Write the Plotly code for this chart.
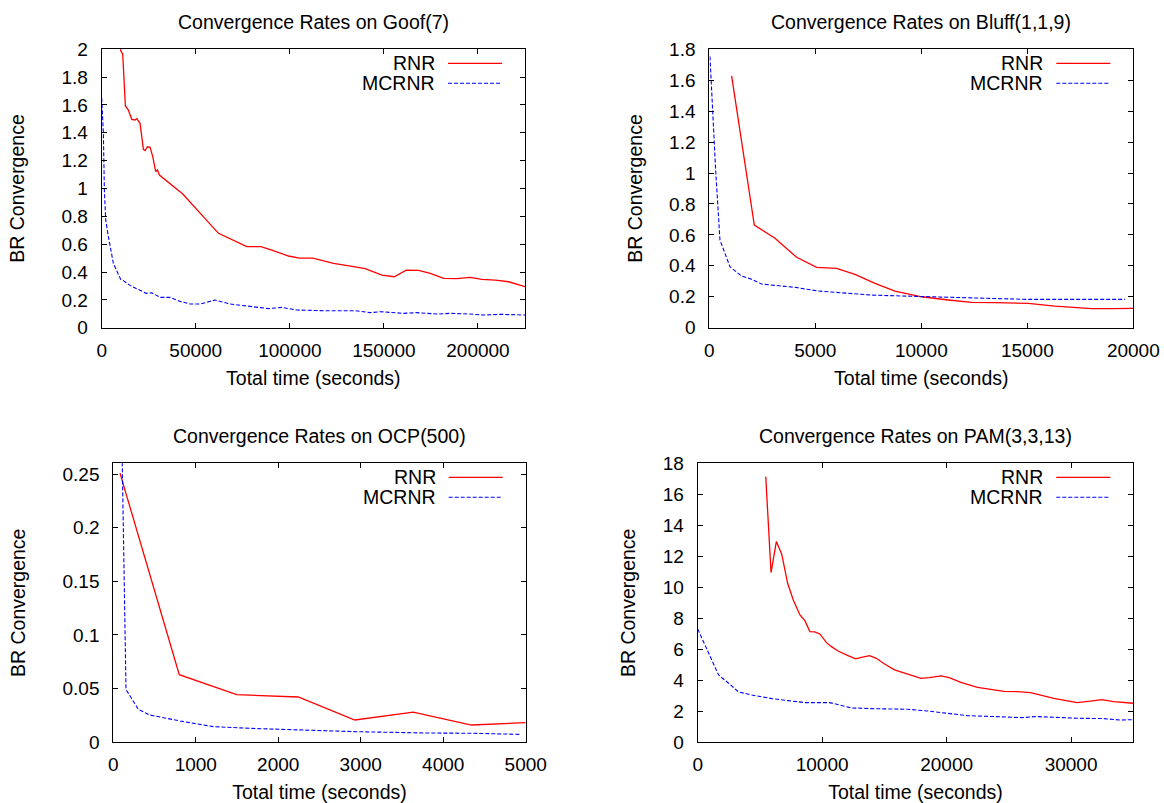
import plotly.graph_objects as go

# ---------------- data ----------------
goof_rnr_x = [9500, 10100, 11170, 12590, 14180, 15960, 17730, 18620, 20390, 22160, 23050, 24290, 25710,
              27130, 28720, 29610, 30670, 43090, 62060, 77130, 84570, 90430, 99290, 105140, 112230,
              123230, 133870, 140070, 148940, 155500, 161880, 168440, 174650, 181740, 188830, 195920,
              202130, 209220, 216310, 225000]
goof_rnr_y = [2.08, 1.99, 1.966, 1.593, 1.564, 1.497, 1.492, 1.502, 1.468, 1.281, 1.272, 1.30, 1.296,
              1.229, 1.121, 1.133, 1.097, 0.960, 0.678, 0.582, 0.582, 0.558, 0.515, 0.500, 0.500,
              0.462, 0.438, 0.424, 0.378, 0.366, 0.414, 0.412, 0.390, 0.354, 0.352, 0.362,
              0.347, 0.342, 0.330, 0.295]
goof_mc_x = [0, 890, 1420, 2130, 3550, 6200, 10110, 11520, 15070, 20390, 23580, 26600, 31030, 36350,
             41670, 46990, 52300, 60280, 68260, 77130, 88650, 95740, 103720, 117910, 134750, 142730,
             148050, 160460, 167550, 178190, 185290, 195920, 203010, 211880, 225000]
goof_mc_y = [1.648, 1.396, 0.989, 0.774, 0.654, 0.462, 0.347, 0.338, 0.304, 0.271, 0.247, 0.251, 0.218,
             0.218, 0.189, 0.170, 0.170, 0.199, 0.170, 0.156, 0.137, 0.146, 0.127, 0.122, 0.122, 0.108,
             0.115, 0.103, 0.108, 0.098, 0.103, 0.098, 0.091, 0.096, 0.091]

bluff_rnr_x = [1053, 2123, 3097, 4120, 5063, 6006, 6871, 7814, 8758, 10016, 11274, 12374, 13475,
               15047, 16305, 17248, 18035, 18978, 20000]
bluff_rnr_y = [1.628, 0.664, 0.578, 0.455, 0.390, 0.384, 0.345, 0.287, 0.237, 0.200, 0.179, 0.164,
               0.162, 0.157, 0.140, 0.131, 0.123, 0.123, 0.125]
bluff_mc_x = [31, 142, 299, 503, 975, 1525, 1997, 2469, 3097, 4041, 5142, 6399, 7657, 9072, 10330,
              11902, 13160, 15047, 17406, 19607]
bluff_mc_y = [1.753, 1.408, 1.020, 0.567, 0.394, 0.334, 0.313, 0.282, 0.274, 0.261, 0.237, 0.226,
              0.211, 0.205, 0.200, 0.194, 0.188, 0.183, 0.183, 0.183]

ocp_rnr_x = [81, 800, 1495, 2242, 2929, 3636, 4343, 5000]
ocp_rnr_y = [0.2509, 0.0630, 0.0444, 0.0422, 0.0208, 0.0282, 0.0161, 0.0183]
ocp_mc_x = [100, 154, 303, 444, 808, 1212, 1657, 2222, 2949, 3758, 4364, 4929]
ocp_mc_y = [0.30, 0.0493, 0.0307, 0.0254, 0.0199, 0.0146, 0.0130, 0.0115, 0.0099, 0.0087, 0.0084, 0.0074]

pam_rnr_x = [5467, 5893, 6320, 6747, 7227, 7680, 8213, 8613, 9013, 9413, 9813, 10347, 10747, 11280,
             12080, 12693, 13147, 13813, 14347, 15013, 15813, 16880, 17947, 18613, 19547, 20213,
             21147, 22480, 23547, 24613, 25680, 26747, 28613, 30480, 31547, 32480, 33413, 35000]
pam_rnr_y = [17.14, 10.95, 12.95, 12.15, 10.26, 9.18, 8.22, 7.85, 7.14, 7.12, 6.99, 6.43, 6.17, 5.89,
             5.59, 5.38, 5.48, 5.59, 5.42, 5.05, 4.67, 4.39, 4.13, 4.17, 4.28, 4.17,
             3.87, 3.55, 3.42, 3.29, 3.27, 3.20, 2.84, 2.56, 2.65, 2.75, 2.62, 2.52]
pam_mc_x = [0, 880, 1680, 2480, 3280, 4347, 5947, 7280, 8613, 10613, 11547, 12347, 13947, 16880,
            18480, 20080, 21680, 23813, 26080, 27147, 28880, 30480, 32613, 33947, 35000]
pam_mc_y = [7.31, 5.74, 4.34, 3.81, 3.25, 3.05, 2.82, 2.69, 2.56, 2.56, 2.37, 2.22, 2.17, 2.13,
            2.02, 1.87, 1.72, 1.66, 1.59, 1.66, 1.59, 1.55, 1.53, 1.44, 1.46]

titles = ["Convergence Rates on Goof(7)", "Convergence Rates on Bluff(1,1,9)",
          "Convergence Rates on OCP(500)", "Convergence Rates on PAM(3,3,13)"]
series_names = ["RNR", "MCRNR"]
x_title = "Total time (seconds)"
y_title = "BR Convergence"

x_ranges = [[0, 225000], [0, 20000], [0, 5000], [0, 35000]]
x_dticks = [50000, 5000, 1000, 10000]
y_ranges = [[0, 2], [0, 1.8], [0, 0.26], [0, 18]]
y_dticks = [0.2, 0.2, 0.05, 2]

# ---------------- layout geometry (pixels) ----------------
W, H = 1164, 803
# left, right, top, bottom of each plot area
boxes = [(101.7, 525.0, 49.3, 327.7),
         (709.3, 1133.3, 49.3, 327.7),
         (113.3, 525.7, 463.3, 742.3),
         (697.7, 1133.3, 463.3, 742.3)]
ytitle_standoff = [31, 21, 31, 21]

FONT = "Liberation Sans, Arial, Helvetica, sans-serif"
RED = "#ff0000"
BLUE = "#0000ff"
DASH = "4px,2px"


def px(x):
    return x / W


def py(y):
    return 1 - y / H


data = [(goof_rnr_x, goof_rnr_y, goof_mc_x, goof_mc_y),
        (bluff_rnr_x, bluff_rnr_y, bluff_mc_x, bluff_mc_y),
        (ocp_rnr_x, ocp_rnr_y, ocp_mc_x, ocp_mc_y),
        (pam_rnr_x, pam_rnr_y, pam_mc_x, pam_mc_y)]

fig = go.Figure()
annotations = []
shapes = []
layout_axes = {}

for i, (rx, ry, mx, my) in enumerate(data):
    n = "" if i == 0 else str(i + 1)
    xa, ya = "x" + n, "y" + n
    fig.add_trace(go.Scatter(x=rx, y=ry, mode="lines", name=series_names[0], xaxis=xa, yaxis=ya,
                             line=dict(color=RED, width=1.3), showlegend=False))
    fig.add_trace(go.Scatter(x=mx, y=my, mode="lines", name=series_names[1], xaxis=xa, yaxis=ya,
                             line=dict(color=BLUE, width=1.1, dash=DASH), showlegend=False))
    l, r, t, b = boxes[i]
    common = dict(showgrid=False, zeroline=False, showline=True, linecolor="black", linewidth=1,
                  mirror="allticks", ticks="inside", ticklen=5, tickwidth=1, tickcolor="black",
                  tickfont=dict(family=FONT, size=19, color="black"), automargin=False,
                  fixedrange=True)
    layout_axes["xaxis" + n] = dict(common, domain=[px(l), px(r)], range=x_ranges[i], tick0=0,
                                    dtick=x_dticks[i], tickformat="d", anchor=ya,
                                    ticklabelstandoff=5,
                                    title=dict(text=x_title, standoff=11,
                                               font=dict(family=FONT, size=19.5, color="black")))
    layout_axes["yaxis" + n] = dict(common, domain=[py(b), py(t)], range=y_ranges[i], tick0=0,
                                    dtick=y_dticks[i], anchor=xa, ticklabelstandoff=9,
                                    title=dict(text=y_title, standoff=ytitle_standoff[i],
                                               font=dict(family=FONT, size=19.5, color="black")))
    # subplot title
    annotations.append(dict(text=titles[i], x=px((l + r) / 2), y=py(t - 27), xref="paper", yref="paper",
                            xanchor="center", yanchor="middle", showarrow=False,
                            font=dict(family=FONT, size=19.5, color="black")))
    # gnuplot-style legend (text right-aligned, sample to the right)
    for k, (name, col, dash) in enumerate([(series_names[0], RED, "solid"), (series_names[1], BLUE, DASH)]):
        yy = t + 14 + 20 * k
        annotations.append(dict(text=name, x=px(r - 88), y=py(yy), xref="paper", yref="paper",
                                xanchor="right", yanchor="middle", showarrow=False,
                                font=dict(family=FONT, size=19.5, color="black")))
        shapes.append(dict(type="line", xref="paper", yref="paper", x0=px(r - 77), x1=px(r - 23),
                           y0=py(yy), y1=py(yy), line=dict(color=col, width=1.3 if k == 0 else 1.1, dash=dash)))

fig.update_layout(
    width=W, height=H,
    margin=dict(l=0, r=0, t=0, b=0),
    paper_bgcolor="white", plot_bgcolor="white",
    showlegend=False,
    annotations=annotations, shapes=shapes,
    font=dict(family=FONT, color="black"),
    **layout_axes,
)

fig.write_html("out.html", config={"displayModeBar": False},
               post_script="document.body.style.margin='0px';document.body.style.padding='0px';")
